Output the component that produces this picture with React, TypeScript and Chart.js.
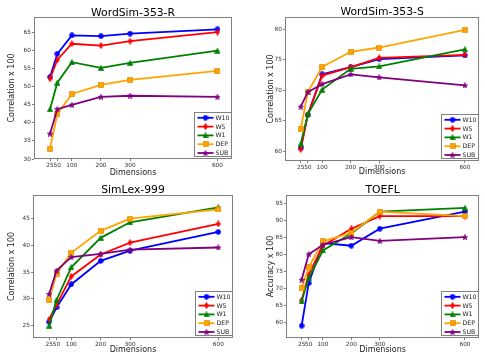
import React, { useEffect, useRef } from 'react';
import { Chart, registerables } from 'chart.js';

Chart.register(...registerables);

// ---------- data ----------
const dims = [25, 50, 100, 200, 300, 600];
const seriesNames = ['W10', 'W5', 'W1', 'DEP', 'SUB'];

const wsrW10 = [52.7, 59.1, 64.2, 64.0, 64.7, 65.9];
const wsrW5 = [52.2, 57.4, 61.9, 61.4, 62.6, 65.1];
const wsrW1 = [43.8, 51.1, 56.8, 55.2, 56.6, 60.0];
const wsrDEP = [32.9, 42.4, 48.0, 50.5, 51.9, 54.4];
const wsrSUB = [37.0, 43.8, 45.0, 47.2, 47.5, 47.2];

const wssW10 = [60.5, 66.0, 72.6, 73.8, 75.1, 75.7];
const wssW5 = [60.3, 66.0, 72.4, 73.8, 75.3, 75.8];
const wssW1 = [61.2, 66.1, 70.1, 73.5, 73.9, 76.7];
const wssDEP = [63.6, 69.7, 73.8, 76.3, 77.0, 79.9];
const wssSUB = [67.3, 69.7, 71.0, 72.6, 72.1, 70.8];

const slW10 = [25.7, 28.4, 32.7, 37.1, 39.0, 42.5];
const slW5 = [26.2, 28.9, 34.2, 38.3, 40.5, 44.0];
const slW1 = [25.0, 29.8, 35.9, 41.4, 44.3, 47.1];
const slDEP = [29.8, 34.7, 38.6, 42.7, 45.0, 46.7];
const slSUB = [30.9, 35.3, 37.8, 38.4, 39.2, 39.6];

const tfW10 = [59.0, 71.5, 83.3, 82.5, 87.5, 92.5];
const tfW5 = [66.5, 74.0, 82.5, 87.5, 91.2, 91.2];
const tfW1 = [66.2, 73.0, 81.1, 86.1, 92.5, 93.6];
const tfDEP = [70.0, 76.2, 83.8, 86.3, 92.5, 91.2];
const tfSUB = [72.5, 80.0, 82.8, 85.0, 83.9, 85.0];

const yTicksWSR = [30, 35, 40, 45, 50, 55, 60, 65];
const yTicksWSS = [60, 65, 70, 75, 80];
const yTicksSL = [25, 30, 35, 40, 45];
const yTicksTF = [60, 65, 70, 75, 80, 85, 90, 95];

// ---------- styles ----------
const FONT = "'DejaVu Sans', 'Liberation Sans', sans-serif";
const TICK_SIZE = 5.8;
const colors = ['#0000ff', '#ff0000', '#008000', '#ffa500', '#800080'];
const edges = ['#0000ff', '#ff0000', '#008000', '#e08a00', '#800080'];
const markerKinds = ['circle', 'thin', 'triangle', 'square', 'star'];

function makeMarker(kind: string, color: string, edge: string): HTMLCanvasElement {
  const c = document.createElement('canvas');
  let w = 6, h = 6;
  if (kind === 'thin') { w = 5; h = 7; }
  c.width = w; c.height = h;
  const ctx = c.getContext('2d')!;
  ctx.fillStyle = color; ctx.strokeStyle = edge; ctx.lineWidth = 0.7;
  ctx.beginPath();
  if (kind === 'circle') ctx.arc(3, 3, 2.45, 0, Math.PI * 2);
  else if (kind === 'thin') { ctx.moveTo(2.5, 0.4); ctx.lineTo(4.5, 3.5); ctx.lineTo(2.5, 6.6); ctx.lineTo(0.5, 3.5); ctx.closePath(); }
  else if (kind === 'triangle') { ctx.moveTo(3, 0.4); ctx.lineTo(5.7, 5.4); ctx.lineTo(0.3, 5.4); ctx.closePath(); }
  else if (kind === 'square') ctx.rect(0.5, 0.5, 5, 5);
  else {
    for (let i = 0; i < 10; i++) {
      const r = i % 2 === 0 ? 2.9 : 1.2;
      const a = -Math.PI / 2 + (i * Math.PI) / 5;
      const x = 3 + r * Math.cos(a), y = 3.3 + r * Math.sin(a);
      if (i === 0) ctx.moveTo(x, y); else ctx.lineTo(x, y);
    }
    ctx.closePath();
  }
  ctx.fill(); ctx.stroke();
  return c;
}

type PanelCfg = {
  title: string; yLabel: string; series: number[][]; yMin: number; yMax: number; yTicks: number[];
  box: { left: number; top: number; w: number; h: number };
  L: number; T: number; R: number; B: number; yTitleX: number; xTitleY: number; titleY: number;
};

const panels: PanelCfg[] = [
  { title: 'WordSim-353-R', yLabel: 'Correlation x 100', series: [wsrW10, wsrW5, wsrW1, wsrDEP, wsrSUB], yMin: 30, yMax: 69.3, yTicks: yTicksWSR,
    box: { left: 0, top: 0, w: 245, h: 178 }, L: 34, T: 17, R: 232, B: 159, yTitleX: 11.7, xTitleY: 172.7, titleY: 13 },
  { title: 'WordSim-353-S', yLabel: 'Correlation x 100', series: [wssW10, wssW5, wssW1, wssDEP, wssSUB], yMin: 58.4, yMax: 82.0, yTicks: yTicksWSS,
    box: { left: 245, top: 0, w: 240, h: 178 }, L: 40, T: 17, R: 238, B: 161, yTitleX: 25.5, xTitleY: 172.3, titleY: 12.5 },
  { title: 'SimLex-999', yLabel: 'Correlation x 100', series: [slW10, slW5, slW1, slDEP, slSUB], yMin: 22.7, yMax: 49.4, yTicks: yTicksSL,
    box: { left: 0, top: 178, w: 245, h: 178 }, L: 33, T: 17, R: 233, B: 160, yTitleX: 11.7, xTitleY: 172, titleY: 12.5 },
  { title: 'TOEFL', yLabel: 'Accuracy x 100', series: [tfW10, tfW5, tfW1, tfDEP, tfSUB], yMin: 55.4, yMax: 97.4, yTicks: yTicksTF,
    box: { left: 245, top: 178, w: 240, h: 178 }, L: 41, T: 17, R: 238, B: 160, yTitleX: 25.5, xTitleY: 172, titleY: 12.5 },
];

function Panel({ cfg }: { cfg: PanelCfg }) {
  const ref = useRef<HTMLCanvasElement | null>(null);
  useEffect(() => {
    if (!ref.current) return;
    const markers = markerKinds.map((k, i) => makeMarker(k, colors[i], edges[i]));
    const { w, h } = cfg.box;
    const deco = {
      id: 'deco',
      afterDatasetsDraw(chart: any) {
        const ctx = chart.ctx as CanvasRenderingContext2D;
        const a = chart.chartArea;
        ctx.save();
        // frame
        ctx.strokeStyle = '#7f7f7f';
        ctx.lineWidth = 1;
        ctx.strokeRect(Math.round(a.left) + 0.5, Math.round(a.top) + 0.5, Math.round(a.right - a.left) - 1, Math.round(a.bottom - a.top) - 1);
        // legend
        const bw = 37, bh = 44;
        const bx = Math.round(a.right - 1.5 - bw) + 0.5;
        const by = Math.round(a.bottom - 3 - bh) + 0.5;
        ctx.fillStyle = '#ffffff';
        ctx.fillRect(bx, by, bw, bh);
        ctx.strokeStyle = '#808080';
        ctx.lineWidth = 1;
        ctx.strokeRect(bx, by, bw, bh);
        chart.data.datasets.forEach((ds: any, i: number) => {
          const ry = by + 5.3 + i * 8.8;
          ctx.strokeStyle = ds.borderColor;
          ctx.lineWidth = 1.8;
          ctx.beginPath();
          ctx.moveTo(bx + 3, ry);
          ctx.lineTo(bx + 19, ry);
          ctx.stroke();
          const m = ds.pointStyle as HTMLCanvasElement;
          ctx.drawImage(m, bx + 11 - m.width / 2, ry - m.height / 2);
          ctx.fillStyle = '#222';
          ctx.font = `6.2px ${FONT}`;
          ctx.textAlign = 'left';
          ctx.textBaseline = 'middle';
          ctx.fillText(ds.label, bx + 21, ry + 0.3);
        });
        ctx.restore();
      },
      afterDraw(chart: any) {
        const ctx = chart.ctx as CanvasRenderingContext2D;
        const a = chart.chartArea;
        ctx.save();
        ctx.fillStyle = '#000';
        ctx.font = `10.8px ${FONT}`;
        ctx.textAlign = 'center';
        ctx.textBaseline = 'middle';
        ctx.fillText(cfg.title, (a.left + a.right) / 2, cfg.titleY);
        ctx.restore();
      },
    };
    const chart = new Chart(ref.current, {
      type: 'line',
      data: {
        datasets: cfg.series.map((vals, i) => ({
          label: seriesNames[i],
          data: dims.map((d, j) => ({ x: d, y: vals[j] })),
          borderColor: colors[i],
          backgroundColor: colors[i],
          borderWidth: 1.8,
          pointStyle: markers[i] as any,
          pointRadius: 3,
          tension: 0,
          fill: false,
          order: 4 - i,
        })),
      },
      options: {
        animation: false,
        responsive: false,
        devicePixelRatio: 1,
        events: [],
        layout: { padding: { left: 0, top: cfg.T, right: w - cfg.R, bottom: 0 } },
        plugins: { legend: { display: false }, title: { display: false }, tooltip: { enabled: false } },
        scales: {
          x: {
            type: 'linear',
            min: -30,
            max: 650,
            afterBuildTicks: (s: any) => { s.ticks = dims.map((v) => ({ value: v })); },
            afterFit: (s: any) => { s.height = h - cfg.B; },
            ticks: { autoSkip: false, maxRotation: 0, minRotation: 0, padding: 1.5, color: '#333', font: { family: FONT, size: TICK_SIZE }, callback: (v: any) => String(v) },
            grid: { display: true, drawOnChartArea: false, drawTicks: true, tickLength: 2, color: '#7f7f7f' },
            border: { display: false },
            title: { display: true, text: 'Dimensions', color: '#222', font: { family: FONT, size: 8, lineHeight: 1.2 }, padding: { top: 0, bottom: h - cfg.xTitleY - 4.8 } },
          },
          y: {
            type: 'linear',
            min: cfg.yMin,
            max: cfg.yMax,
            afterBuildTicks: (s: any) => { s.ticks = cfg.yTicks.map((v) => ({ value: v })); },
            afterFit: (s: any) => { s.width = cfg.L; },
            ticks: { autoSkip: false, padding: 1, color: '#333', font: { family: FONT, size: TICK_SIZE }, callback: (v: any) => String(v) },
            grid: { display: true, drawOnChartArea: false, drawTicks: true, tickLength: 2, color: '#7f7f7f' },
            border: { display: false },
            title: { display: true, text: cfg.yLabel, color: '#222', font: { family: FONT, size: 8, lineHeight: 1.2 }, padding: { top: cfg.yTitleX - 4.8, bottom: 0 } },
          },
        },
      } as any,
      plugins: [deco],
    });
    return () => chart.destroy();
  }, [cfg]);
  return (
    <div style={{ position: 'absolute', left: cfg.box.left, top: cfg.box.top, width: cfg.box.w, height: cfg.box.h }}>
      <canvas ref={ref} width={cfg.box.w} height={cfg.box.h} style={{ display: 'block', width: cfg.box.w, height: cfg.box.h }} />
    </div>
  );
}

export default function App() {
  return (
    <div style={{ position: 'fixed', left: 0, top: 0, width: 485, height: 356, background: '#fff' }}>
      {panels.map((p) => (
        <Panel key={p.title} cfg={p} />
      ))}
    </div>
  );
}
